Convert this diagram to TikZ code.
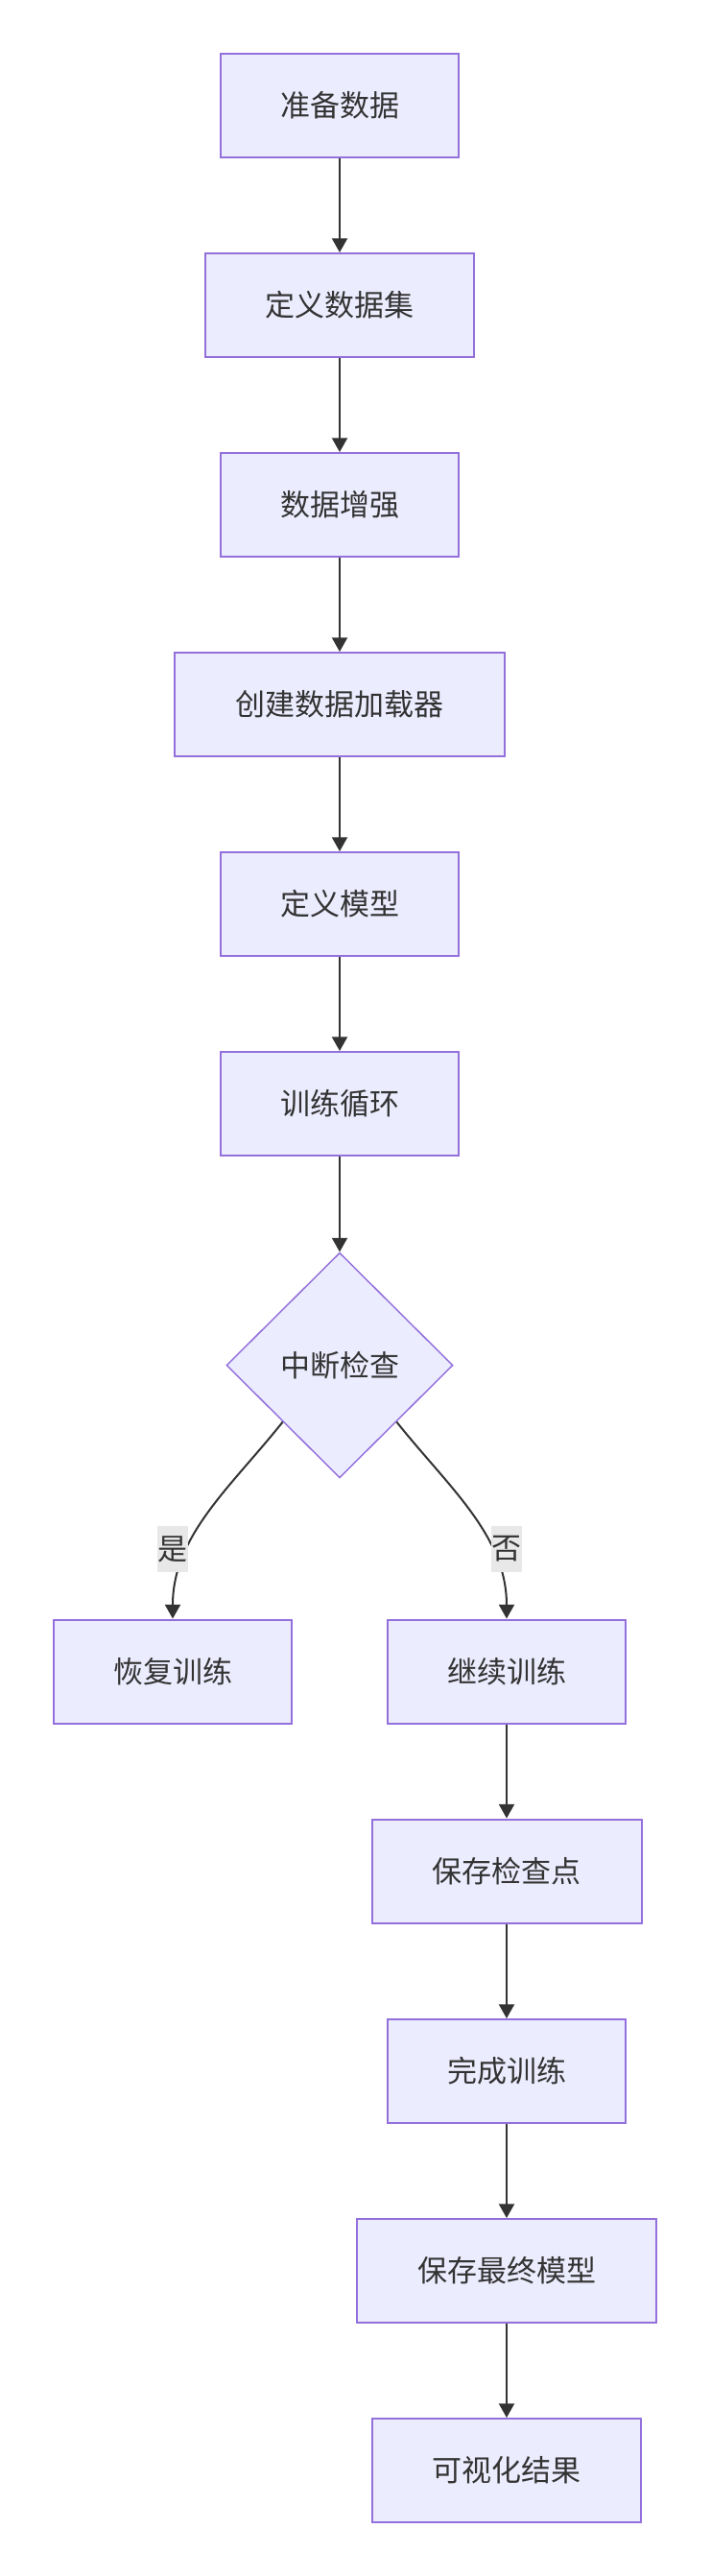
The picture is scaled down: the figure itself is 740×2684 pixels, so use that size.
\documentclass[tikz,border=0pt]{standalone}
\usepackage{fontspec}
\setmainfont{Noto Sans CJK SC}
\usetikzlibrary{shapes.geometric,arrows.meta}
\definecolor{boxfill}{HTML}{ECECFF}
\definecolor{boxline}{HTML}{9370DB}
\definecolor{ink}{HTML}{333333}
\definecolor{lblbg}{HTML}{E8E8E8}
\tikzset{
  stepbox/.style={draw=boxline, fill=boxfill, line width=1.5pt, minimum height=81pt, inner sep=0pt, text=ink, font=\fontsize{23.25pt}{28pt}\selectfont},
  decide/.style={draw=boxline, fill=boxfill, line width=1.1pt, diamond, inner sep=0pt, minimum width=177pt, minimum height=176pt, text=ink, font=\fontsize{23.25pt}{28pt}\selectfont},
  flow/.style={draw=ink, line width=1.5pt, -{Triangle[width=12pt,length=11pt]}},
  lbl/.style={fill=lblbg, inner sep=0pt, minimum width=23.5pt, minimum height=36pt, text=ink, font=\fontsize{23.25pt}{28pt}\selectfont}
}
\begin{document}
\begin{tikzpicture}[x=0.75pt,y=-0.75pt]
\useasboundingbox (0,0) rectangle (740,2684);
\node[stepbox, minimum width=186pt] (a) at (354,110) {准备数据};
\node[stepbox, minimum width=210pt] (b) at (354,318) {定义数据集};
\node[stepbox, minimum width=186pt] (c) at (354,526) {数据增强};
\node[stepbox, minimum width=258pt] (d) at (354,734) {创建数据加载器};
\node[stepbox, minimum width=186pt] (e) at (354,942) {定义模型};
\node[stepbox, minimum width=186pt] (f) at (354,1150) {训练循环};
\node[decide] (g) at (354,1422.5) {中断检查};
\node[stepbox, minimum width=186pt] (h) at (180,1741.5) {恢复训练};
\node[stepbox, minimum width=186pt] (i) at (528,1741.5) {继续训练};
\node[stepbox, minimum width=210.75pt] (j) at (528,1949.5) {保存检查点};
\node[stepbox, minimum width=186pt] (k) at (528,2158) {完成训练};
\node[stepbox, minimum width=234pt] (l) at (528,2366) {保存最终模型};
\node[stepbox, minimum width=210pt] (m) at (528,2574) {可视化结果};
\draw[flow] (a) -- (b);
\draw[flow] (b) -- (c);
\draw[flow] (c) -- (d);
\draw[flow] (d) -- (e);
\draw[flow] (e) -- (f);
\draw[flow] (f) -- (g);
\draw[flow] (g.south west) .. controls (240,1550) and (180,1600) .. (h.north);
\draw[flow] (g.south east) .. controls (468,1550) and (528,1600) .. (i.north);
\node[lbl] (ly) at (180,1614) {是};
\node[lbl] (ln) at (528,1614) {否};
\draw[flow] (i) -- (j);
\draw[flow] (j) -- (k);
\draw[flow] (k) -- (l);
\draw[flow] (l) -- (m);
\end{tikzpicture}
\end{document}
